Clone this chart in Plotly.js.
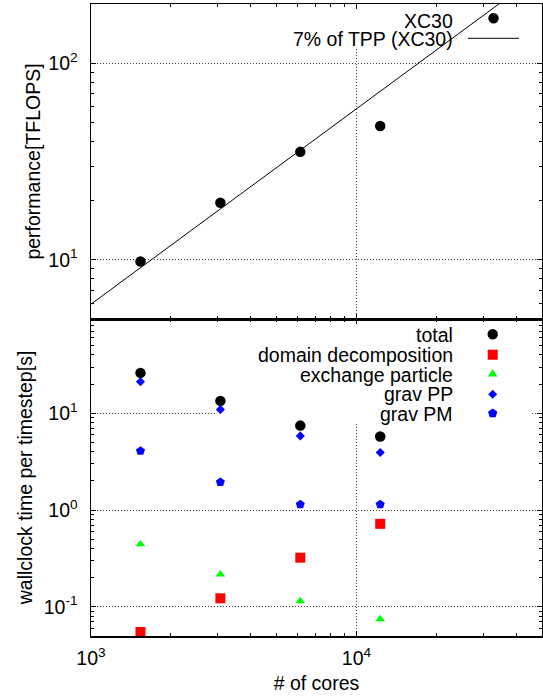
<!DOCTYPE html>
<html>
<head>
<meta charset="utf-8">
<script src="https://cdn.plot.ly/plotly-3.0.1.min.js"></script>
<style>html,body{margin:0;padding:0;background:#fff;}#chart{width:543px;height:697px;}</style>
</head>
<body>
<div id="chart"></div>
<script>
// ---- data ----
const cores = [1536, 3072, 6144, 12288];
const perfXC30 = [9.8, 19.5, 35.4, 47.9];
const tppCores = [1000, 50000];
const tppPerf = [5.95, 290];
const timeTotal = [26.1, 13.4, 7.45, 5.74];
const timeDomain = [0.055, 0.1225, 0.322, 0.72];
const timeExchange = [0.444, 0.217, 0.1146, 0.0747];
const timeGravPP = [21.1, 10.9, 5.83, 3.93];
const timeGravPM = [4.07, 1.935, 1.14, 1.14];
const topLegend = ['XC30', '7% of TPP (XC30)'];
const bottomLegend = ['total', 'domain decomposition', 'exchange particle', 'grav PP', 'grav PM'];
const xTickVals = [1000, 10000];
const xTickText = ['10<sup>3</sup>', '10<sup>4</sup>'];
const yTopTickVals = [10, 100];
const yTopTickText = ['10<sup>1</sup>', '10<sup>2</sup>'];
const yBotTickVals = [0.1, 1, 10];
const yBotTickText = ['10<sup>-1</sup>', '10<sup>0</sup>', '10<sup>1</sup>'];
const xMinor = [2000,3000,4000,5000,6000,7000,8000,9000,20000,30000,40000,50000];
const yTopMinor = [5,6,7,8,9,20,30,40,50,60,70,80,90,200];
const yBotMinor = [0.05,0.06,0.07,0.08,0.09,0.2,0.3,0.4,0.5,0.6,0.7,0.8,0.9,2,3,4,5,6,7,8,9,20,30,40,50,60,70,80,90];

// ---- layout helpers ----
const W = 543, H = 697, ML = 91, MR = 1, MT = 4, MB = 61;
const PW = W - ML - MR, PH = H - MT - MB;
const SEP = 319;
const px2x = p => (p - ML) / PW;
const py2y = p => (H - MB - p) / PH;
const split = (H - MB - SEP) / PH;
const FONT = 'Liberation Sans, Arial, Helvetica, sans-serif';
const FS = 19.5;

const xRange = [3, Math.log10(50000)];
const yTopRange = [Math.log10(5), Math.log10(200)];
const yBotRange = [Math.log10(0.05), Math.log10(94)];
// pixel -> axis value converters (for the opaque key boxes only)
const xVal = p => Math.pow(10, xRange[0] + (p - ML) / PW * (xRange[1] - xRange[0]));
const yTopVal = p => Math.pow(10, yTopRange[1] - (p - MT) / (SEP - MT) * (yTopRange[1] - yTopRange[0]));
const yBotVal = p => Math.pow(10, yBotRange[1] - (p - SEP) / (H - MB - SEP) * (yBotRange[1] - yBotRange[0]));

const colors = {total:'#000000', domain:'#ff0000', exchange:'#00ff00', pp:'#0000ff', pm:'#0000ff'};

const traces = [
  {x: cores, y: perfXC30, xaxis:'x2', yaxis:'y2', mode:'markers', name: topLegend[0],
   marker:{symbol:'circle', size:10.5, color:'#000'}},
  {x: tppCores, y: tppPerf, xaxis:'x2', yaxis:'y2', mode:'lines', name: topLegend[1],
   line:{color:'#000', width:1}},
  {x: cores, y: timeTotal, mode:'markers', name: bottomLegend[0], marker:{symbol:'circle', size:10.5, color:colors.total}},
  {x: cores, y: timeDomain, mode:'markers', name: bottomLegend[1], marker:{symbol:'square', size:10, color:colors.domain}},
  {x: cores, y: timeExchange, mode:'markers', name: bottomLegend[2], marker:{symbol:'triangle-up', size:8.5, color:colors.exchange}},
  {x: cores, y: timeGravPP, mode:'markers', name: bottomLegend[3], marker:{symbol:'diamond', size:7, color:colors.pp}},
  {x: cores, y: timeGravPM, mode:'markers', name: bottomLegend[4], marker:{symbol:'pentagon', size:9.5, color:colors.pm}}
];

const axisCommon = {
  type:'log', showline:true, linecolor:'#000', linewidth:1.5, mirror:'allticks',
  ticks:'inside', ticklen:5, tickcolor:'#000', tickwidth:1,
  showgrid:true, gridcolor:'#444', griddash:'1px,2px', gridwidth:1, zeroline:false,
  tickfont:{family:FONT, size:FS, color:'#000'}
};

const layout = {
  width:W, height:H, margin:{l:ML, r:MR, t:MT, b:MB, pad:0},
  paper_bgcolor:'#fff', plot_bgcolor:'#fff', showlegend:false,
  font:{family:FONT, size:FS, color:'#000'},
  xaxis: Object.assign({}, axisCommon, {
    domain:[0,1], anchor:'y', range:xRange,
    tickmode:'array', tickvals:xTickVals, ticktext:xTickText, ticklabelstandoff:4,
    minor:{tickmode:'array', tickvals:xMinor, ticks:'inside', ticklen:3, tickcolor:'#000', showgrid:false},
    title:{text:'# of cores', font:{family:FONT, size:FS}, standoff:8}
  }),
  yaxis: Object.assign({}, axisCommon, {
    domain:[0, split], anchor:'x', range:yBotRange,
    tickmode:'array', tickvals:yBotTickVals, ticktext:yBotTickText, ticklabelstandoff:8,
    minor:{tickmode:'array', tickvals:yBotMinor, ticks:'inside', ticklen:3, tickcolor:'#000', showgrid:false},
    title:{text:'wallclock time per timestep[s]', font:{family:FONT, size:FS}, standoff:6}
  }),
  xaxis2: Object.assign({}, axisCommon, {
    domain:[0,1], anchor:'y2', matches:'x', range:xRange,
    tickmode:'array', tickvals:xTickVals, showticklabels:false,
    minor:{tickmode:'array', tickvals:xMinor, ticks:'inside', ticklen:3, tickcolor:'#000', showgrid:false}
  }),
  yaxis2: Object.assign({}, axisCommon, {
    domain:[split, 1], anchor:'x2', range:yTopRange,
    tickmode:'array', tickvals:yTopTickVals, ticktext:yTopTickText, ticklabelstandoff:8,
    minor:{tickmode:'array', tickvals:yTopMinor, ticks:'inside', ticklen:3, tickcolor:'#000', showgrid:false},
    title:{text:'performance[TFLOPS]', font:{family:FONT, size:FS}, standoff:2}
  }),
  shapes:[], annotations:[]
};

// opaque key boxes (hide grid beneath the keys, like gnuplot) — above grid, below traces
layout.shapes.push({type:'rect', xref:'x2', yref:'y2', layer:'between',
  x0:xVal(262), x1:xVal(541), y0:yTopVal(47), y1:yTopVal(5), fillcolor:'#fff', line:{width:0}});
layout.shapes.push({type:'rect', xref:'x', yref:'y', layer:'between',
  x0:xVal(216), x1:xVal(532), y0:yBotVal(422), y1:yBotVal(320), fillcolor:'#fff', line:{width:0}});

// key texts and samples
function keyText(txt, py){
  layout.annotations.push({text:txt, xref:'paper', yref:'paper', x:px2x(455), y:py2y(py),
    xanchor:'right', yanchor:'middle', showarrow:false, font:{family:FONT, size:FS, color:'#000'}});
}
function keySym(kind, color, cx, cy){
  const base = {xref:'paper', yref:'paper', xsizemode:'pixel', ysizemode:'pixel',
    xanchor:px2x(cx), yanchor:py2y(cy), fillcolor:color, line:{width:0}, layer:'above'};
  if (kind === 'circle') Object.assign(base, {type:'circle', x0:-5.2, x1:5.2, y0:-5.2, y1:5.2});
  else if (kind === 'square') Object.assign(base, {type:'rect', x0:-5, x1:5, y0:-5, y1:5});
  else if (kind === 'triangle') Object.assign(base, {type:'path', path:'M0,4.4 L4.7,-3 L-4.7,-3 Z'});
  else if (kind === 'diamond') Object.assign(base, {type:'path', path:'M0,4.5 L4.5,0 L0,-4.5 L-4.5,0 Z'});
  else if (kind === 'pentagon') Object.assign(base, {type:'path', path:'M0,4.9 L4.66,1.51 L2.88,-3.96 L-2.88,-3.96 L-4.66,1.51 Z'});
  layout.shapes.push(base);
}
keyText(topLegend[0], 20.5);
keyText(topLegend[1], 39);
keySym('circle', '#000', 493.5, 18.3);
layout.shapes.push({type:'line', xref:'paper', yref:'paper', x0:px2x(468), x1:px2x(519),
  y0:py2y(38.3), y1:py2y(38.3), line:{color:'#000', width:1}, layer:'above'});

const rows = [335, 355, 374.5, 394.3, 413.5];
const kinds = ['circle','square','triangle','diamond','pentagon'];
const kcols = [colors.total, colors.domain, colors.exchange, colors.pp, colors.pm];
const symY = [334.3, 354.7, 373.5, 394.3, 413.3];
bottomLegend.forEach((t,i)=>{ keyText(t, rows[i]); keySym(kinds[i], kcols[i], 492.7, symY[i]); });

Plotly.newPlot('chart', traces, layout, {staticPlot:true, displayModeBar:false});
</script>
</body>
</html>
